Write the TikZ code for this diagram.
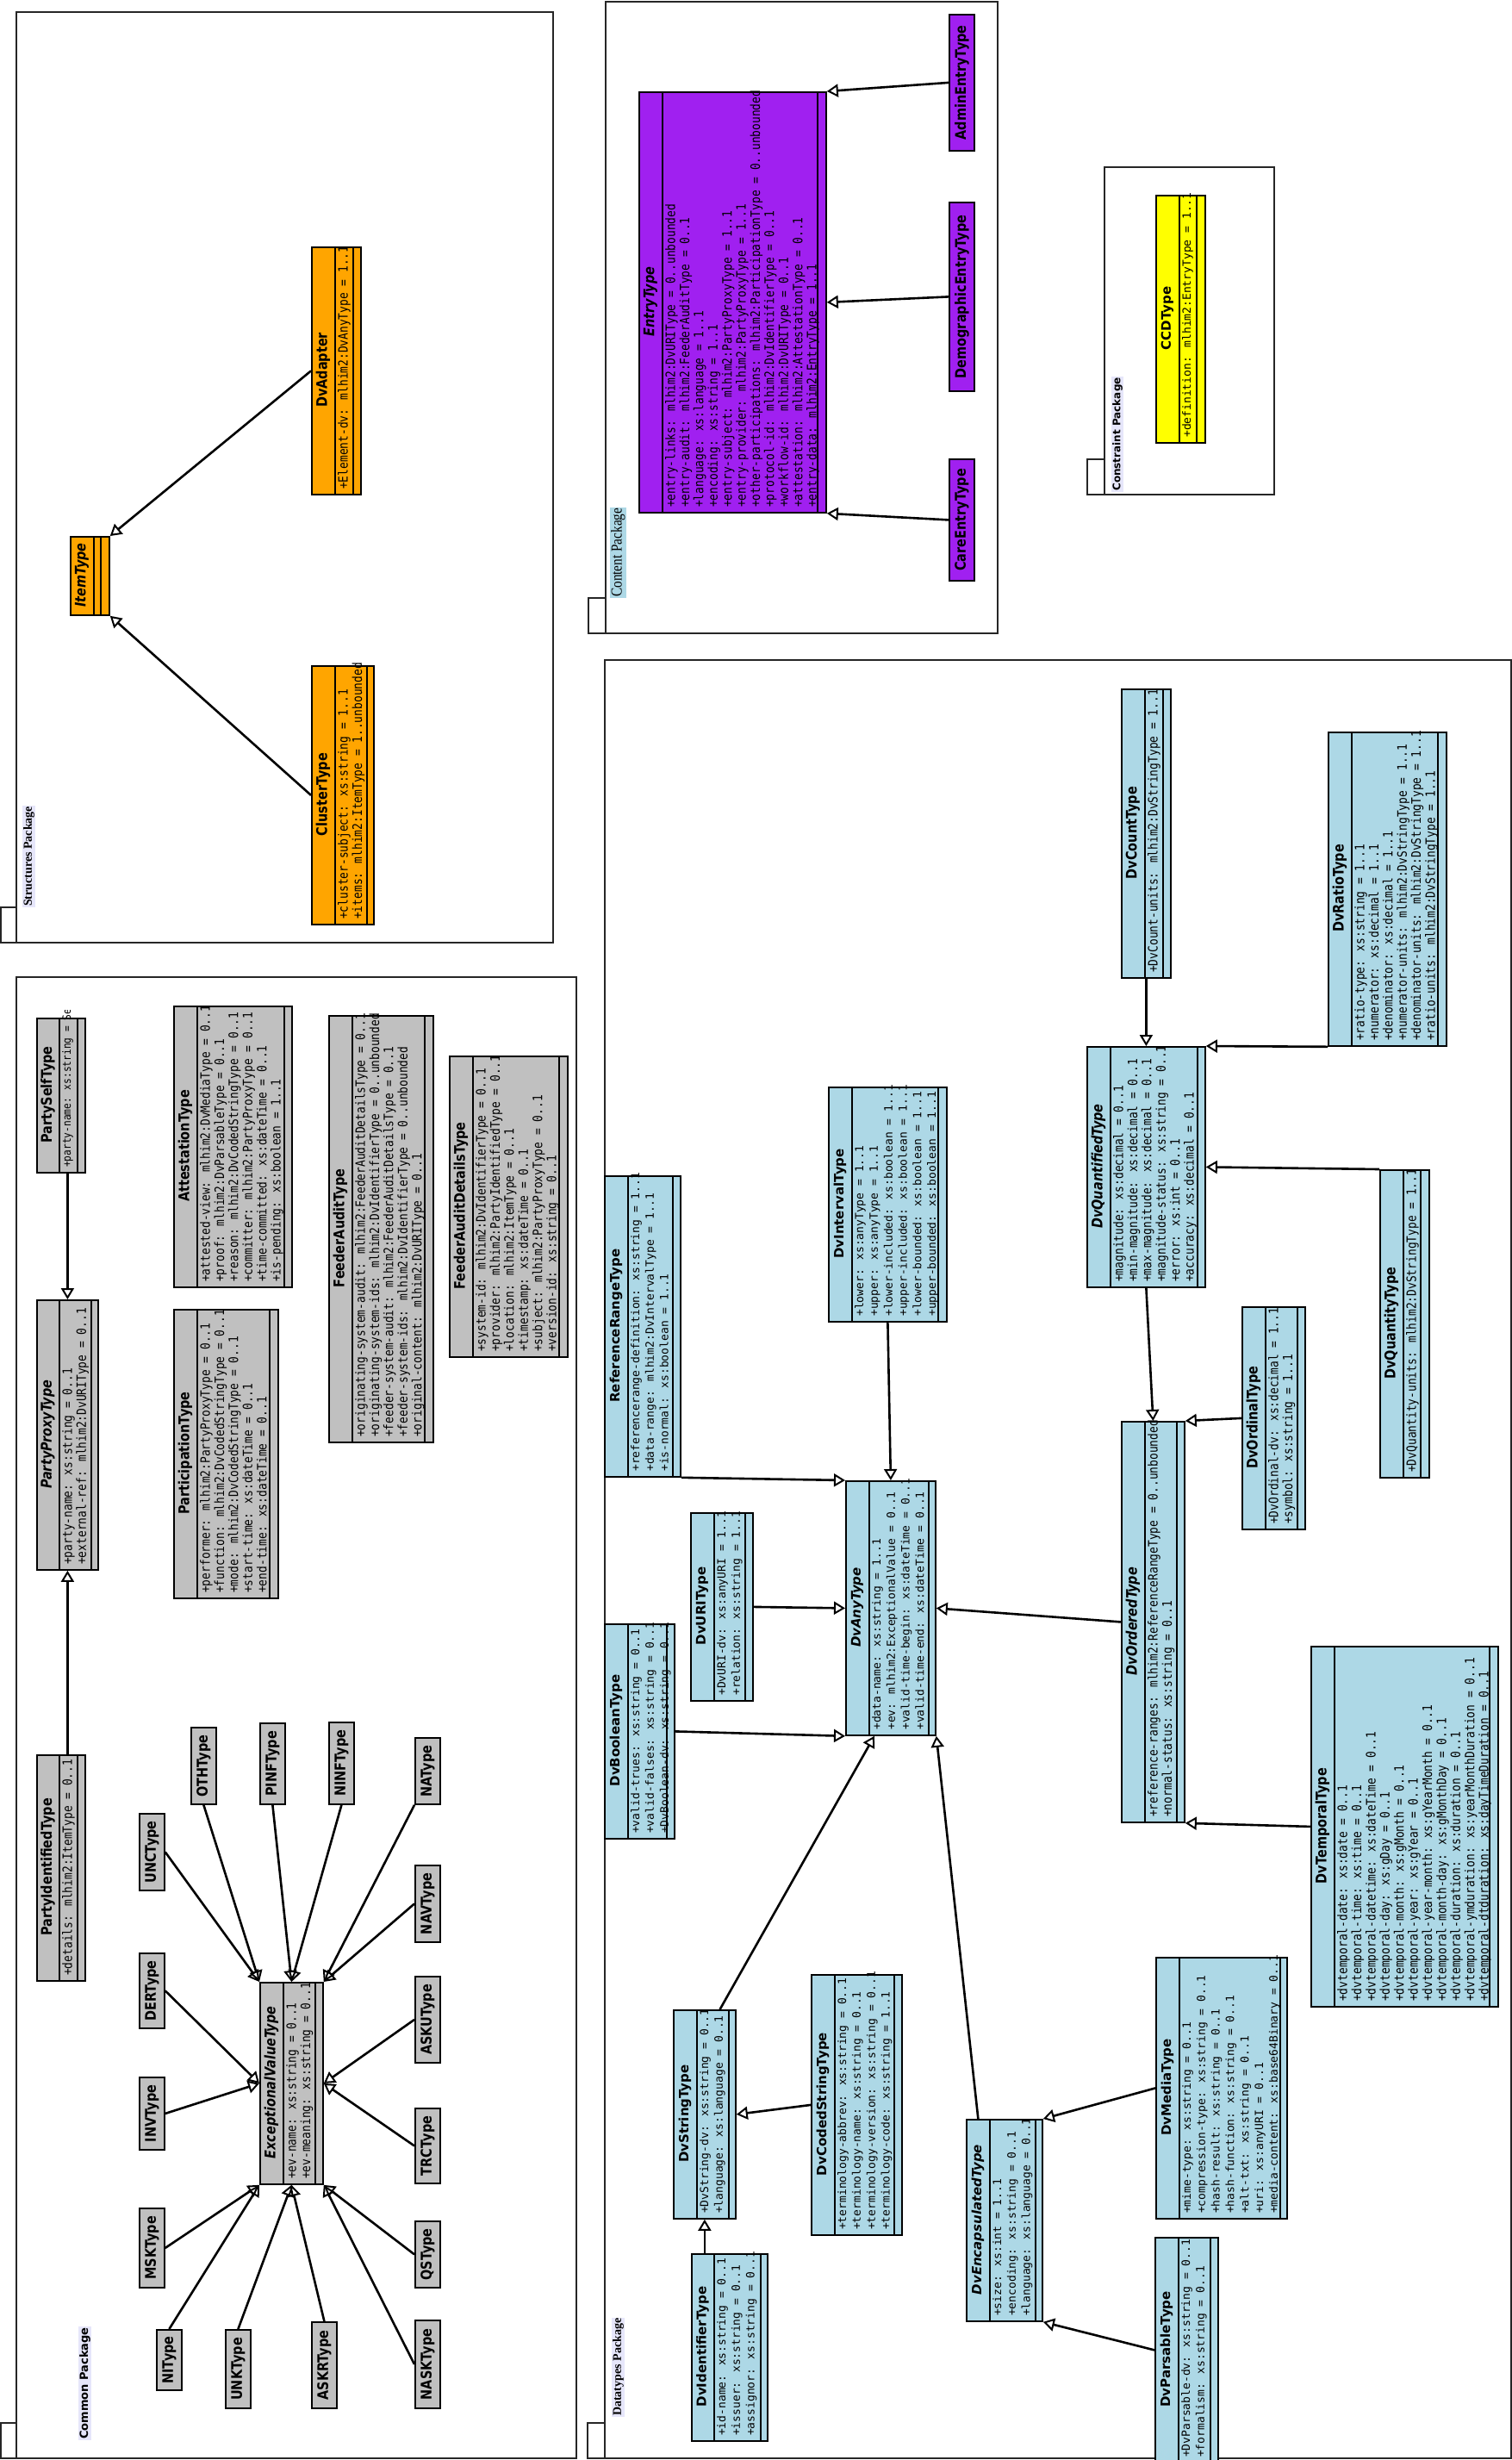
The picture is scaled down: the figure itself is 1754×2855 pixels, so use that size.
\documentclass[tikz,border=0pt]{standalone}
\usepackage{fontspec}
\setmainfont{DejaVu Sans}
\newfontfamily\ftsans{DejaVu Sans}
\newfontfamily\ftsansc[FakeStretch=0.85]{DejaVu Sans}
\newfontfamily\ftmono{DejaVu Sans Mono}
\newfontfamily\ftmonoc[FakeStretch=0.86]{DejaVu Sans Mono}
\newfontfamily\ftserif[FakeStretch=0.85]{Liberation Serif}
\newfontfamily\ftserifb{Liberation Serif}
\usetikzlibrary{arrows.meta,calc}
\definecolor{orng}{RGB}{255,165,0}
\definecolor{purp}{RGB}{160,32,240}
\definecolor{gry}{RGB}{192,192,192}
\definecolor{lblu}{RGB}{173,216,230}
\definecolor{yel}{RGB}{255,255,0}
\definecolor{lav}{RGB}{230,230,250}
\newcommand\fTC{\ftsansc\bfseries\fontsize{17}{20}\selectfont}
\newcommand\fTCi{\ftsansc\bfseries\itshape\fontsize{17}{20}\selectfont}
\newcommand\fTN{\ftsans\bfseries\fontsize{15}{18}\selectfont}
\newcommand\fTNi{\ftsans\bfseries\itshape\fontsize{15}{18}\selectfont}
\newcommand\fAC{\ftmonoc\fontsize{15}{16.4}\selectfont}
\newcommand\fAN{\ftmono\fontsize{13}{16.8}\selectfont}
\tikzset{
  box/.style={draw=black, line width=1.8pt, inner sep=0pt, anchor=north west},
  sep/.style={line width=1.8pt},
  gen/.style={line width=2.6pt, -{Triangle[open, length=13pt, width=15pt, line width=2pt]}},
  pkg/.style={draw=black!85, line width=1.8pt, inner sep=0pt, anchor=north west},
  pkglabel/.style={rotate=90, anchor=north west, fill=lav, inner sep=1pt, font=\ftsans\bfseries\fontsize{13}{15}\selectfont},
}
\newcommand\umlclass[9]{%
  \node[box, fill=#8, minimum width={#4-#2}, minimum height={#5-#3}] (#1) at (#2,#3) {};
  \draw[sep] (#6,#3) -- (#6,#5) (#7,#3) -- (#7,#5);
  \node[rotate=90, inner sep=0pt] (#1t) at ({(#2+#6)/2},{(#3+#5)/2}) {#9};
}
\newcommand\umlattrs[6]{%
  \begin{scope}
    \clip ({#2-2},{#3-9}) rectangle ({#2+300},{#4});
    \node[rotate=90, anchor=north west, align=left, inner sep=0pt, font=#5] (#1) at ({#2+3},{#4-5}) {#6};
  \end{scope}
}
\newcommand\umlsimple[7]{%
  \node[box, fill=#6, minimum width={#4-#2}, minimum height={#5-#3}] (#1) at (#2,#3) {};
  \node[rotate=90, inner sep=0pt] (#1t) at (#1.center) {#7};
}
\begin{document}
\begin{tikzpicture}[x=1pt, y=-1pt]
\useasboundingbox[fill=white] (0,0) rectangle (1754,2855);

% ---------------- packages
\node[pkg, minimum width=623, minimum height=1080] (pkgstruct) at (18,13) {};
\node[pkg, minimum width=18, minimum height=41] (tabstruct) at (0,1052) {};
\node[pkglabel, font=\ftserifb\bfseries\fontsize{14}{16}\selectfont] (lblstruct) at (26,1053) {Structures Package};

\node[pkg, minimum width=455, minimum height=733] (pkgcontent) at (702,1) {};
\node[pkg, minimum width=20, minimum height=41] (tabcontent) at (682,693) {};
\node[pkglabel, fill=lblu, font=\ftserif\fontsize{18}{20}\selectfont] (lblcontent) at (708,694) {Content Package};

\node[pkg, minimum width=197, minimum height=380] (pkgconstr) at (1281,193) {};
\node[pkg, minimum width=20, minimum height=41] (tabconstr) at (1261,532) {};
\node[pkglabel, font=\ftsans\bfseries\fontsize{12}{14}\selectfont] (lblconstr) at (1290,571) {Constraint Package};

\node[pkg, minimum width=650, minimum height=1719] (pkgcommon) at (18,1133) {};
\node[pkg, minimum width=18, minimum height=41] (tabcommon) at (0,2811) {};
\node[pkglabel] (lblcommon) at (91,2832) {Common Package};

\node[pkg, minimum width=1052, minimum height=2087] (pkgdata) at (701,765) {};
\node[pkg, minimum width=20, minimum height=41] (tabdata) at (681,2811) {};
\node[pkglabel, font=\ftserifb\bfseries\fontsize{14}{16}\selectfont] (lbldata) at (710,2805) {Datatypes Package};

% ---------------- structures
\umlclass{itemtype}{81}{622}{126}{713}{109}{117}{orng}{\fTCi ItemType}
\umlclass{dvadapter}{361}{286}{418}{573}{389}{410}{orng}{\fTC DvAdapter}
\umlattrs{dvadaptera}{389}{286}{573}{\fAC}{+Element-dv: mlhim2:DvAnyType = 1..1}
\umlclass{cluster}{361}{772}{433}{1072}{389}{426}{orng}{\fTC ClusterType}
\umlattrs{clustera}{389}{772}{1072}{\fAC}{+cluster-subject: xs:string = 1..1\\+items: mlhim2:ItemType = 1..unbounded}

% ---------------- content
\umlclass{entry}{741}{106}{958}{594}{769}{949}{purp}{\fTCi EntryType}
\umlattrs{entrya}{769}{106}{594}{\fAC}{+entry-links: mlhim2:DvURIType = 0..unbounded\\+entry-audit: mlhim2:FeederAuditType = 0..1\\+language: xs:language = 1..1\\+encoding: xs:string = 1..1\\+entry-subject: mlhim2:PartyProxyType = 1..1\\+entry-provider: mlhim2:PartyProxyType = 1..1\\+other-participations: mlhim2:ParticipationType = 0..unbounded\\+protocol-id: mlhim2:DvIdentifierType = 0..1\\+workflow-id: mlhim2:DvURIType = 0..1\\+attestation: mlhim2:AttestationType = 0..1\\+entry-data: mlhim2:EntryType = 1..1}
\umlsimple{admin}{1101}{16}{1130}{174}{purp}{\fTC AdminEntryType}
\umlsimple{demog}{1101}{234}{1130}{453}{purp}{\fTC DemographicEntryType}
\umlsimple{care}{1101}{532}{1130}{673}{purp}{\fTC CareEntryType}

% ---------------- constraint
\umlclass{ccd}{1341}{226}{1398}{513}{1369}{1389}{yel}{\fTN CCDType}
\umlattrs{ccda}{1369}{226}{513}{\fAN}{+definition: mlhim2:EntryType = 1..1}

% ---------------- common
\umlclass{partyself}{42}{1181}{98}{1360}{69}{90}{gry}{\fTC PartySelfType}
\umlattrs{partyselfa}{69}{1181}{1360}{\ftmonoc\fontsize{13}{16.4}\selectfont}{+party-name: xs:string = Self}
\umlclass{partyproxy}{42}{1508}{113}{1821}{69}{106}{gry}{\fTCi PartyProxyType}
\umlattrs{partyproxya}{69}{1508}{1821}{\fAC}{+party-name: xs:string = 0..1\\+external-ref: mlhim2:DvURIType = 0..1}
\umlclass{partyident}{42}{2036}{98}{2298}{69}{90}{gry}{\fTC PartyIdentifiedType}
\umlattrs{partyidenta}{69}{2036}{2298}{\fAC}{+details: mlhim2:ItemType = 0..1}
\umlclass{attest}{201}{1167}{338}{1493}{229}{330}{gry}{\fTC AttestationType}
\umlattrs{attesta}{229}{1167}{1493}{\fAC}{+attested-view: mlhim2:DvMediaType = 0..1\\+proof: mlhim2:DvParsableType = 0..1\\+reason: mlhim2:DvCodedStringType = 0..1\\+committer: mlhim2:PartyProxyType = 0..1\\+time-committed: xs:dateTime = 0..1\\+is-pending: xs:boolean = 1..1}
\umlclass{partic}{201}{1519}{322}{1854}{229}{313}{gry}{\fTC ParticipationType}
\umlattrs{partica}{229}{1519}{1854}{\fAC}{+performer: mlhim2:PartyProxyType = 0..1\\+function: mlhim2:DvCodedStringType = 0..1\\+mode: mlhim2:DvCodedStringType = 0..1\\+start-time: xs:dateTime = 0..1\\+end-time: xs:dateTime = 0..1}
\umlclass{feeder}{381}{1178}{502}{1673}{409}{493}{gry}{\fTC FeederAuditType}
\umlattrs{feedera}{409}{1178}{1673}{\fAC}{+originating-system-audit: mlhim2:FeederAuditDetailsType = 0..1\\+originating-system-ids: mlhim2:DvIdentifierType = 0..unbounded\\+feeder-system-audit: mlhim2:FeederAuditDetailsType = 0..1\\+feeder-system-ids: mlhim2:DvIdentifierType = 0..unbounded\\+original-content: mlhim2:DvURIType = 0..1}
\umlclass{feederdet}{521}{1225}{658}{1574}{549}{649}{gry}{\fTC FeederAuditDetailsType}
\umlattrs{feederdeta}{549}{1225}{1574}{\fAC}{+system-id: mlhim2:DvIdentifierType = 0..1\\+provider: mlhim2:PartyIdentifiedType = 0..1\\+location: mlhim2:ItemType = 0..1\\+timestamp: xs:dateTime = 0..1\\+subject: mlhim2:PartyProxyType = 0..1\\+version-id: xs:string = 0..1}
\umlclass{evt}{301}{2300}{374}{2534}{329}{366}{gry}{\fTCi ExceptionalValueType}
\umlattrs{evta}{329}{2300}{2534}{\fAC}{+ev-name: xs:string = 0..1\\+ev-meaning: xs:string = 0..1}

\umlsimple{unc}{161}{2104}{190}{2193}{gry}{\fTC UNCType}
\umlsimple{oth}{221}{2004}{250}{2093}{gry}{\fTC OTHType}
\umlsimple{pinf}{301}{1999}{330}{2093}{gry}{\fTC PINFType}
\umlsimple{ninf}{381}{1998}{410}{2093}{gry}{\fTC NINFType}
\umlsimple{na}{481}{2016}{510}{2093}{gry}{\fTC NAType}
\umlsimple{nav}{481}{2164}{510}{2253}{gry}{\fTC NAVType}
\umlsimple{asku}{481}{2293}{510}{2393}{gry}{\fTC ASKUType}
\umlsimple{trc}{481}{2446}{510}{2533}{gry}{\fTC TRCType}
\umlsimple{qs}{481}{2577}{510}{2654}{gry}{\fTC QSType}
\umlsimple{nask}{481}{2692}{510}{2794}{gry}{\fTC NASKType}
\umlsimple{askr}{361}{2694}{390}{2794}{gry}{\fTC ASKRType}
\umlsimple{unk}{261}{2703}{290}{2794}{gry}{\fTC UNKType}
\umlsimple{ni}{181}{2703}{210}{2773}{gry}{\fTC NIType}
\umlsimple{msk}{161}{2562}{190}{2654}{gry}{\fTC MSKType}
\umlsimple{inv}{161}{2410}{190}{2494}{gry}{\fTC INVType}
\umlsimple{der}{161}{2266}{190}{2353}{gry}{\fTC DERType}

% ---------------- datatypes
\umlclass{refrange}{701}{1364}{789}{1713}{729}{781}{lblu}{\fTN ReferenceRangeType}
\umlattrs{refrangea}{729}{1364}{1713}{\fAN}{+referencerange-definition: xs:string = 1..1\\+data-range: mlhim2:DvIntervalType = 1..1\\+is-normal: xs:boolean = 1..1}
\umlclass{interval}{961}{1261}{1098}{1533}{989}{1089}{lblu}{\fTN DvIntervalType}
\umlattrs{intervala}{989}{1261}{1533}{\fAN}{+lower: xs:anyType = 1..1\\+upper: xs:anyType = 1..1\\+lower-included: xs:boolean = 1..1\\+upper-included: xs:boolean = 1..1\\+lower-bounded: xs:boolean = 1..1\\+upper-bounded: xs:boolean = 1..1}
\umlclass{dvany}{981}{1718}{1085}{2013}{1009}{1078}{lblu}{\fTNi DvAnyType}
\umlattrs{dvanya}{1009}{1718}{2013}{\fAN}{+data-name: xs:string = 1..1\\+ev: mlhim2:ExceptionalValue = 0..1\\+valid-time-begin: xs:dateTime = 0..1\\+valid-time-end: xs:dateTime = 0..1}
\umlclass{dvuri}{801}{1755}{873}{1973}{829}{865}{lblu}{\fTN DvURIType}
\umlattrs{dvuria}{829}{1755}{1973}{\fAN}{+DvURI-dv: xs:anyURI = 1..1\\+relation: xs:string = 1..1}
\umlclass{dvbool}{701}{1884}{782}{2133}{729}{774}{lblu}{\fTN DvBooleanType}
\umlattrs{dvboola}{729}{1884}{2133}{\fAN}{+valid-trues: xs:string = 0..1\\+valid-falses: xs:string = 0..1\\+DvBoolean-dv: xs:string = 0..1}
\umlclass{dvstring}{781}{2332}{853}{2574}{809}{846}{lblu}{\fTN DvStringType}
\umlattrs{dvstringa}{809}{2332}{2574}{\fAN}{+DvString-dv: xs:string = 0..1\\+language: xs:language = 0..1}
\umlclass{dvcoded}{941}{2291}{1046}{2593}{969}{1038}{lblu}{\fTN DvCodedStringType}
\umlattrs{dvcodeda}{969}{2291}{2593}{\fAN}{+terminology-abbrev: xs:string = 0..1\\+terminology-name: xs:string = 0..1\\+terminology-version: xs:string = 0..1\\+terminology-code: xs:string = 1..1}
\umlclass{dvident}{802}{2615}{890}{2832}{829}{883}{lblu}{\fTN DvIdentifierType}
\umlattrs{dvidenta}{829}{2615}{2832}{\fAN}{+id-name: xs:string = 0..1\\+issuer: xs:string = 0..1\\+assignor: xs:string = 0..1}
\umlclass{dvencap}{1121}{2459}{1209}{2693}{1149}{1202}{lblu}{\fTNi DvEncapsulatedType}
\umlattrs{dvencapa}{1149}{2459}{2693}{\fAN}{+size: xs:int = 1..1\\+encoding: xs:string = 0..1\\+language: xs:language = 0..1}
\umlclass{dvmedia}{1341}{2271}{1493}{2574}{1369}{1486}{lblu}{\fTN DvMediaType}
\umlattrs{dvmediaa}{1369}{2271}{2574}{\fAN}{+mime-type: xs:string = 0..1\\+compression-type: xs:string = 0..1\\+hash-result: xs:string = 0..1\\+hash-function: xs:string = 0..1\\+alt-txt: xs:string = 0..1\\+uri: xs:anyURI = 0..1\\+media-content: xs:base64Binary = 0..1}
\umlclass{dvparse}{1340}{2596}{1413}{2857}{1368}{1405}{lblu}{\fTN DvParsableType}
\umlattrs{dvparsea}{1368}{2596}{2857}{\fAN}{+DvParsable-dv: xs:string = 0..1\\+formalism: xs:string = 0..1}
\umlclass{dvcount}{1301}{799}{1358}{1134}{1329}{1350}{lblu}{\fTC DvCountType}
\umlattrs{dvcounta}{1329}{799}{1134}{\fAC}{+DvCount-units: mlhim2:DvStringType = 1..1}
\umlclass{dvquant}{1261}{1214}{1398}{1493}{1289}{1390}{lblu}{\fTCi DvQuantifiedType}
\umlattrs{dvquanta}{1289}{1214}{1493}{\fAC}{+magnitude: xs:decimal = 0..1\\+min-magnitude: xs:decimal = 0..1\\+max-magnitude: xs:decimal = 0..1\\+magnitude-status: xs:string = 0..1\\+error: xs:int = 0..1\\+accuracy: xs:decimal = 0..1}
\umlclass{dvratio}{1541}{849}{1678}{1213}{1569}{1669}{lblu}{\fTC DvRatioType}
\umlattrs{dvratioa}{1569}{849}{1213}{\fAC}{+ratio-type: xs:string = 1..1\\+numerator: xs:decimal = 1..1\\+denominator: xs:decimal = 1..1\\+numerator-units: mlhim2:DvStringType = 1..1\\+denominator-units: mlhim2:DvStringType = 1..1\\+ratio-units: mlhim2:DvStringType = 1..1}
\umlclass{dvquantity}{1601}{1357}{1658}{1714}{1629}{1649}{lblu}{\fTC DvQuantityType}
\umlattrs{dvquantitya}{1629}{1357}{1714}{\fAC}{+DvQuantity-units: mlhim2:DvStringType = 1..1}
\umlclass{dvordered}{1301}{1649}{1374}{2114}{1329}{1366}{lblu}{\fTCi DvOrderedType}
\umlattrs{dvordereda}{1329}{1649}{2114}{\fAC}{+reference-ranges: mlhim2:ReferenceRangeType = 0..unbounded\\+normal-status: xs:string = 0..1}
\umlclass{dvordinal}{1441}{1516}{1514}{1774}{1469}{1506}{lblu}{\fTC DvOrdinalType}
\umlattrs{dvordinala}{1469}{1516}{1774}{\fAC}{+DvOrdinal-dv: xs:decimal = 1..1\\+symbol: xs:string = 1..1}
\umlclass{dvtemp}{1521}{1910}{1738}{2328}{1549}{1729}{lblu}{\fTC DvTemporalType}
\umlattrs{dvtempa}{1549}{1910}{2328}{\fAC}{+dvtemporal-date: xs:date = 0..1\\+dvtemporal-time: xs:time = 0..1\\+dvtemporal-datetime: xs:dateTime = 0..1\\+dvtemporal-day: xs:gDay = 0..1\\+dvtemporal-month: xs:gMonth = 0..1\\+dvtemporal-year: xs:gYear = 0..1\\+dvtemporal-year-month: xs:gYearMonth = 0..1\\+dvtemporal-month-day: xs:gMonthDay = 0..1\\+dvtemporal-duration: xs:duration = 0..1\\+dvtemporal-ymduration: xs:yearMonthDuration = 0..1\\+dvtemporal-dtduration: xs:dayTimeDuration = 0..1}

% ---------------- generalisations
\draw[gen] (dvadapter.west) -- (itemtype.north east);
\draw[gen] (cluster.west) -- (itemtype.south east);
\draw[gen] (admin.west) -- (entry.north east);
\draw[gen] (demog.west) -- (entry.east);
\draw[gen] (care.west) -- (entry.south east);
\draw[gen] (partyself.south -| partyproxy.north) -- (partyproxy.north);
\draw[gen] (partyident.north -| partyproxy.south) -- (partyproxy.south);

\draw[gen] (unc.east) -- (evt.north west);
\draw[gen] (oth.south) -- (evt.north west);
\draw[gen] (pinf.south) -- (evt.north);
\draw[gen] (ninf.south) -- (evt.north);
\draw[gen] (na.south west) -- (evt.north east);
\draw[gen] (nav.west) -- (evt.north east);
\draw[gen] (asku.west) -- (evt.east);
\draw[gen] (trc.west) -- (evt.east);
\draw[gen] (qs.west) -- (evt.south east);
\draw[gen] (nask.west) -- (evt.south east);
\draw[gen] (askr.north) -- (evt.south);
\draw[gen] (unk.north) -- (evt.south);
\draw[gen] (ni.north) -- (evt.south west);
\draw[gen] (msk.east) -- (evt.south west);
\draw[gen] (inv.east) -- (evt.west);
\draw[gen] (der.east) -- (evt.west);

\draw[gen] (interval.south) -- (dvany.north);
\draw[gen] (refrange.south east) -- (dvany.north west);
\draw[gen] (dvuri.east) -- (dvany.west);
\draw[gen] (dvbool.east) -- (dvany.south west);
\draw[gen] (dvordered.west) -- (dvany.east);
\draw[gen] ($(dvstring.north west)!0.74!(dvstring.north east)$) -- ($(dvany.south west)!0.32!(dvany.south east)$);
\draw[gen] ($(dvencap.north west)!0.16!(dvencap.north east)$) -- (dvany.south east);
\draw[gen] (dvmedia.west) -- (dvencap.north east);
\draw[gen] (dvparse.west) -- (dvencap.south east);
\draw[gen] (dvcoded.west) -- (dvstring.east);
\draw[gen] (dvident.north -| dvstring.south) -- (dvstring.south);
\draw[gen] (dvcount.south) -- (dvquant.north);
\draw[gen] (dvratio.south west) -- (dvquant.north east);
\draw[gen] (dvquantity.north west) -- (dvquant.east);
\draw[gen] (dvquant.south) -- (dvordered.north);
\draw[gen] (dvordinal.west) -- (dvordered.north east);
\draw[gen] (dvtemp.west) -- (dvordered.south east);
\end{tikzpicture}
\end{document}
